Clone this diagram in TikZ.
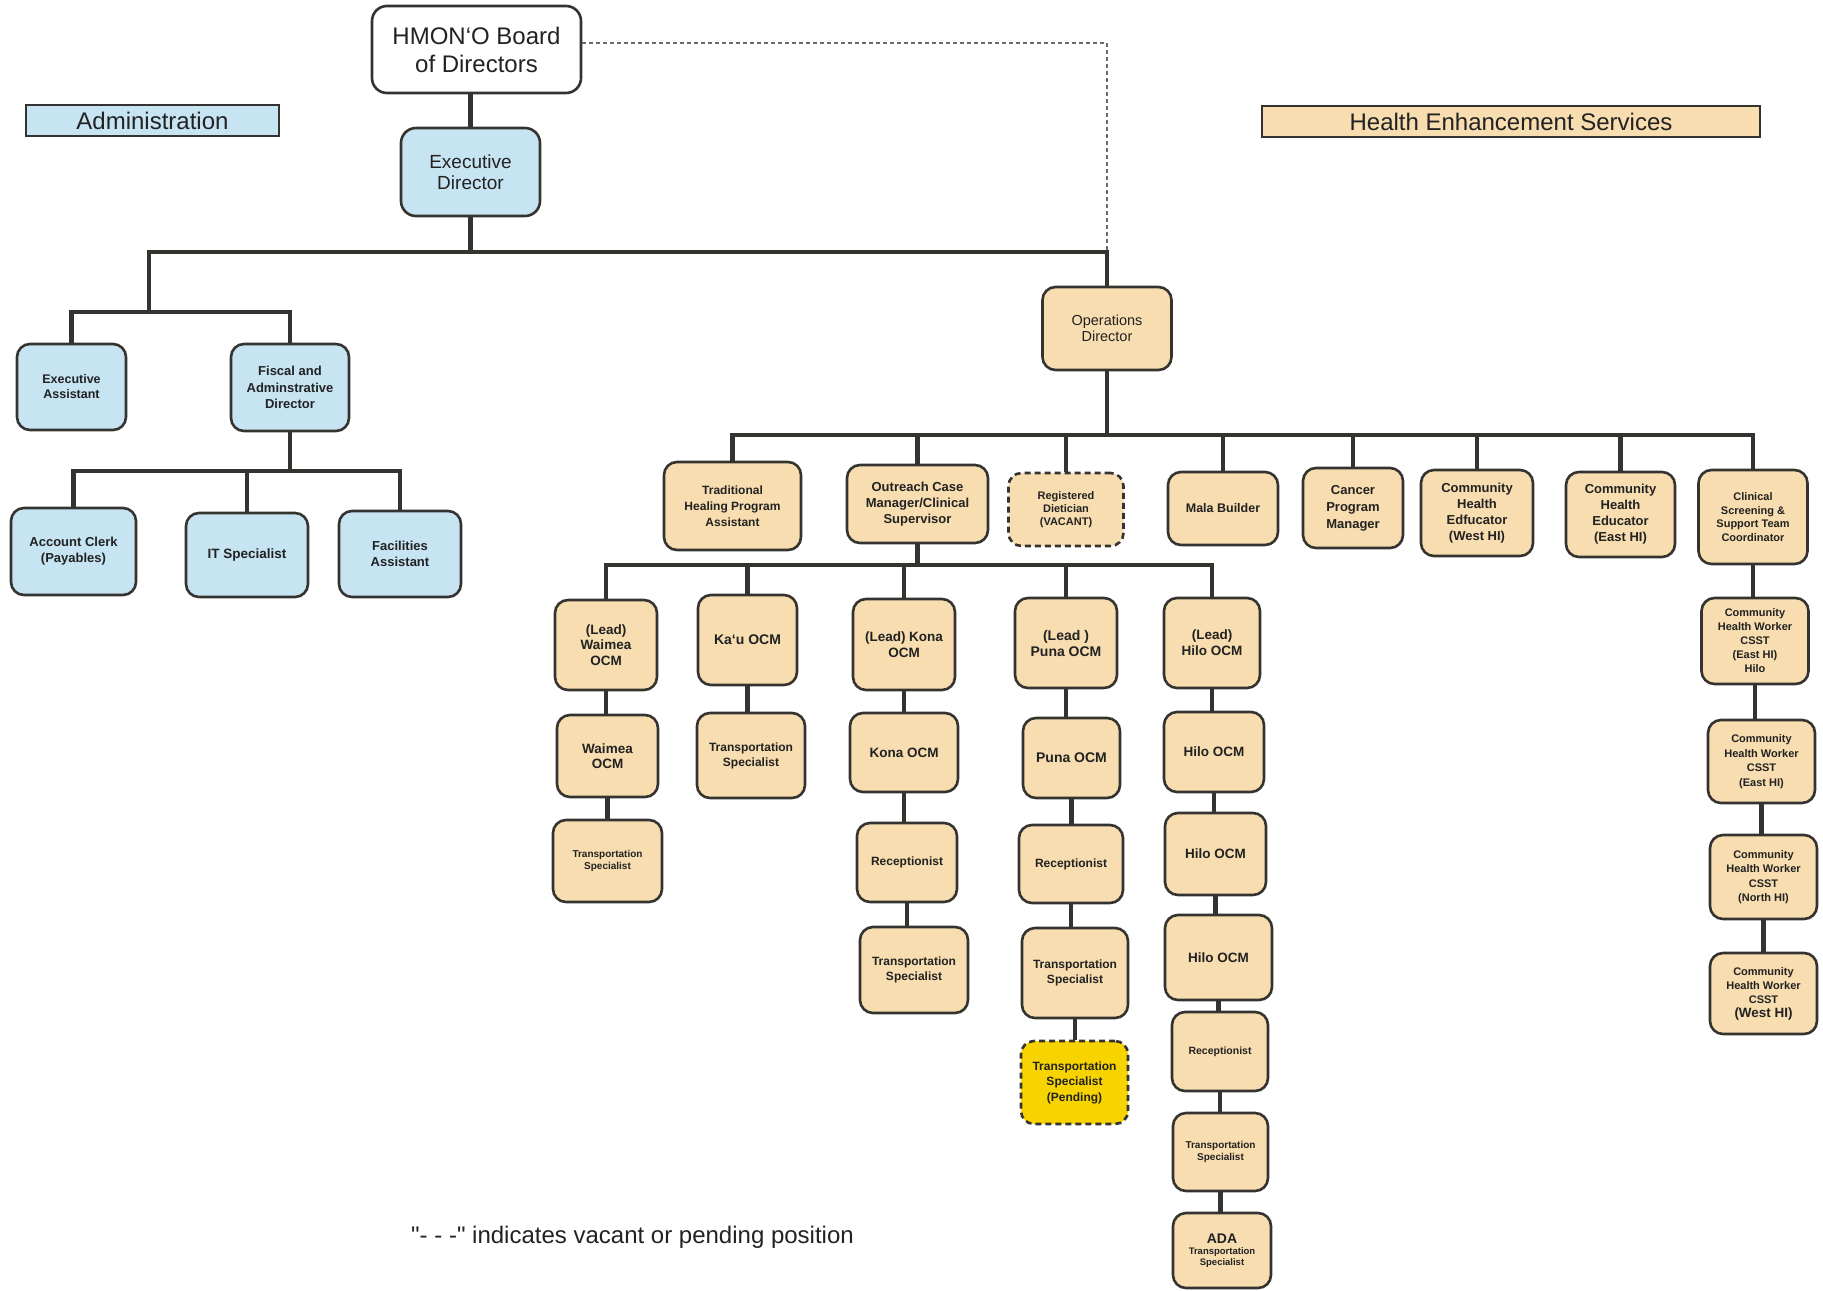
\documentclass[tikz,border=0pt]{standalone}
\usepackage{fontspec}
\setmainfont{Liberation Sans}
\newfontfamily\legendfont{Liberation Sans}[Ligatures=TeXOff]
\definecolor{linec}{HTML}{35332F}
\definecolor{peach}{HTML}{F7DDB0}
\definecolor{bluef}{HTML}{C6E4F2}
\definecolor{yel}{HTML}{F7D300}
\definecolor{txt}{HTML}{222222}
\definecolor{dotc}{HTML}{6A6A6A}
\tikzset{
  box/.style={draw=linec, line width=2.6bp, rounded corners=13bp, fill=peach, align=center, inner sep=0pt, text=txt},
  bl/.style={box, fill=bluef},
  vac/.style={dash pattern=on 6bp off 4bp},
  wh/.style 2 args={minimum width=#1bp, minimum height=#2bp},
  f/.style 2 args={font=\fontsize{#1bp}{#2bp}\selectfont\bfseries},
  fr/.style 2 args={font=\fontsize{#1bp}{#2bp}\selectfont},
  hdr/.style={draw=linec, line width=2.5bp, align=center, inner sep=0pt, text=txt},
  conn/.style={draw=linec, line width=4.5bp},
  dotl/.style={draw=dotc, line width=1.8bp, dash pattern=on 4bp off 3bp},
}
\begin{document}
\begin{tikzpicture}[x=1bp,y=-1bp]
\fill[white] (0,0) rectangle (1823,1290);
\useasboundingbox (0,0) rectangle (1823,1290);

% headers
\node[hdr, fill=bluef, wh={253}{31}, fr={24}{28}] (adm) at (152.5,120.5) {Administration};
\node[hdr, fill=peach, wh={498}{31}, fr={24}{28}] (hes) at (1511,121.5) {Health Enhancement Services};

% top
\node[box, fill=white, rounded corners=15bp, wh={209}{87}, fr={24}{28}] (board) at (476.5,49.5) {HMON`O Board\\of Directors};
\node[bl, rounded corners=15bp, wh={139}{88}, fr={19}{21}] (exec) at (470.5,172) {Executive\\Director};

% administration
\node[bl, wh={109}{86}, f={12.5}{15}] (ea) at (71.5,387) {Executive\\Assistant};
\node[bl, wh={118}{87}, f={13}{16.5}] (fad) at (290,387.5) {Fiscal and\\Adminstrative\\Director};
\node[bl, wh={125}{87}, f={13}{16}] (ac) at (73.5,551.5) {Account Clerk\\(Payables)};
\node[bl, wh={122}{84}, f={13.5}{16}] (it) at (247,555) {IT Specialist};
\node[bl, wh={122}{86}, f={13}{16}] (fa) at (400,554) {Facilities\\Assistant};

% operations
\node[box, wh={129}{83}, fr={14.5}{16.5}] (ops) at (1107,328.5) {Operations\\Director};

\node[box, wh={137}{88}, f={12}{15.7}] (trad) at (732.5,506) {Traditional\\Healing Program\\Assistant};
\node[box, wh={141}{78}, f={13}{15.7}] (ocm) at (917.5,504) {Outreach Case\\Manager/Clinical\\Supervisor};
\node[box, vac, wh={115}{73}, f={11}{12.8}] (rd) at (1066,509.5) {Registered\\Dietician\\(VACANT)};
\node[box, wh={110}{73}, f={12.5}{15}] (mala) at (1223,508.5) {Mala Builder};
\node[box, wh={100}{80}, f={13}{17}] (cpm) at (1353,508) {Cancer\\Program\\Manager};
\node[box, wh={112}{86}, f={13}{16}] (chw) at (1477,513) {Community\\Health\\Edfucator\\(West HI)};
\node[box, wh={109}{85}, f={13}{16}] (che) at (1620.5,514.5) {Community\\Health\\Educator\\(East HI)};
\node[box, wh={109}{94}, f={11}{13.5}] (css) at (1753,517) {Clinical\\Screening \&\\Support Team\\Coordinator};

% Waimea
\node[box, wh={102}{90}, f={13.5}{15.5}] (lw) at (606,645) {(Lead)\\Waimea\\OCM};
\node[box, wh={101}{82}, f={13.5}{15.5}] (wo) at (607.5,756) {Waimea\\OCM};
\node[box, wh={109}{82}, f={10}{12}] (wts) at (607.5,861) {Transportation\\Specialist};
% Ka`u
\node[box, wh={99}{90}, f={14}{16}] (kau) at (747.5,640) {Ka`u OCM};
\node[box, wh={108}{85}, f={12}{15}] (kts) at (751,755.5) {Transportation\\Specialist};
% Kona
\node[box, wh={102}{91}, f={13.5}{16}] (lk) at (904,644.5) {(Lead) Kona\\OCM};
\node[box, wh={108}{79}, f={13.5}{16}] (ko) at (904,752.5) {Kona OCM};
\node[box, wh={100}{79}, f={12}{15}] (kr) at (907,862.5) {Receptionist};
\node[box, wh={108}{86}, f={12}{15}] (kts2) at (914,970) {Transportation\\Specialist};
% Puna
\node[box, wh={102}{90}, f={14}{16}] (lp) at (1066,643) {(Lead )\\Puna OCM};
\node[box, wh={97}{80}, f={14}{16}] (po) at (1071.5,758) {Puna OCM};
\node[box, wh={104}{78}, f={12}{15}] (pr) at (1071,864) {Receptionist};
\node[box, wh={106}{90}, f={12}{15}] (pts) at (1075,973) {Transportation\\Specialist};
\node[box, vac, fill=yel, wh={107}{83}, f={12}{15.5}] (pend) at (1074.5,1082.5) {Transportation\\Specialist\\(Pending)};
% Hilo
\node[box, wh={96}{90}, f={13.5}{16}] (lh) at (1212,643) {(Lead)\\Hilo OCM};
\node[box, wh={100}{80}, f={13.5}{16}] (h1) at (1214,752) {Hilo OCM};
\node[box, wh={101}{82}, f={13.5}{16}] (h2) at (1215.5,854) {Hilo OCM};
\node[box, wh={107}{85}, f={13.5}{16}] (h3) at (1218.5,957.5) {Hilo OCM};
\node[box, wh={96}{79}, f={10.5}{12.5}] (hr) at (1220,1051.5) {Receptionist};
\node[box, wh={95}{78}, f={10}{12}] (hts) at (1220.5,1152) {Transportation\\Specialist};
\node[box, wh={98}{75}, f={9.5}{11}] (ada) at (1222,1250.5) {{\fontsize{14}{15}\selectfont ADA}\\Transportation\\Specialist};
% Community health workers
\node[box, wh={107}{86}, f={11}{14}] (c1) at (1755,641) {Community\\Health Worker\\CSST\\(East HI)\\Hilo};
\node[box, wh={107}{83}, f={11}{14.5}] (c2) at (1761.5,761.5) {Community\\Health Worker\\CSST\\(East HI)};
\node[box, wh={107}{84}, f={11}{14.5}] (c3) at (1763.5,877) {Community\\Health Worker\\CSST\\(North HI)};
\node[box, wh={107}{81}, f={11}{14}] (c4) at (1763.5,993.5) {Community\\Health Worker\\CSST\\{\fontsize{13.5}{15}\selectfont (West HI)}};

% legend
\node[font=\legendfont\fontsize{24bp}{28bp}\selectfont, text=txt, inner sep=0pt] (legend) at (632.5,1237) {"- - -" indicates vacant or pending position};

% bus coordinates
\coordinate (busA) at (0,252);
\coordinate (busC) at (0,471);
\coordinate (busD) at (0,435);
\coordinate (busE) at (0,565);
\coordinate (jadm) at (149,312);

% connectors
\draw[dotl] (board.east |- 0,43) -| (ops.north |- busA);
\draw[conn] (exec.north) -- (exec.north |- board.south);
\draw[conn] (exec.south) -- (exec.south |- busA);
\draw[conn] (jadm) -- (jadm |- busA) -- (ops.north |- busA) -- (ops.north);
\draw[conn] (ea.north) |- (jadm) -| (fad.north);
\draw[conn] (fad.south) -- (fad.south |- busC);
\draw[conn] (ac.north) |- (fa.north |- busC) -- (fa.north);
\draw[conn] (it.north) -- (it.north |- busC);

\draw[conn] (ops.south) -- (ops.south |- busD);
\draw[conn] (trad.north) |- (css.north |- busD) -- (css.north);
\foreach \n in {ocm,rd,mala,cpm,chw,che} \draw[conn] (\n.north) -- (\n.north |- busD);

\draw[conn] (ocm.south) -- (ocm.south |- busE);
\draw[conn] (lw.north) |- (lh.north |- busE) -- (lh.north);
\foreach \n in {kau,lk,lp} \draw[conn] (\n.north) -- (\n.north |- busE);

\foreach \a/\b in {lw/wo,wo/wts,kau/kts,lk/ko,ko/kr,kr/kts2,lp/po,po/pr,pr/pts,pts/pend,lh/h1,h1/h2,h2/h3,h3/hr,hr/hts,hts/ada,css/c1,c1/c2,c2/c3,c3/c4}
  \draw[conn] (\a.south) -- (\a.south |- \b.north);
\end{tikzpicture}
\end{document}
